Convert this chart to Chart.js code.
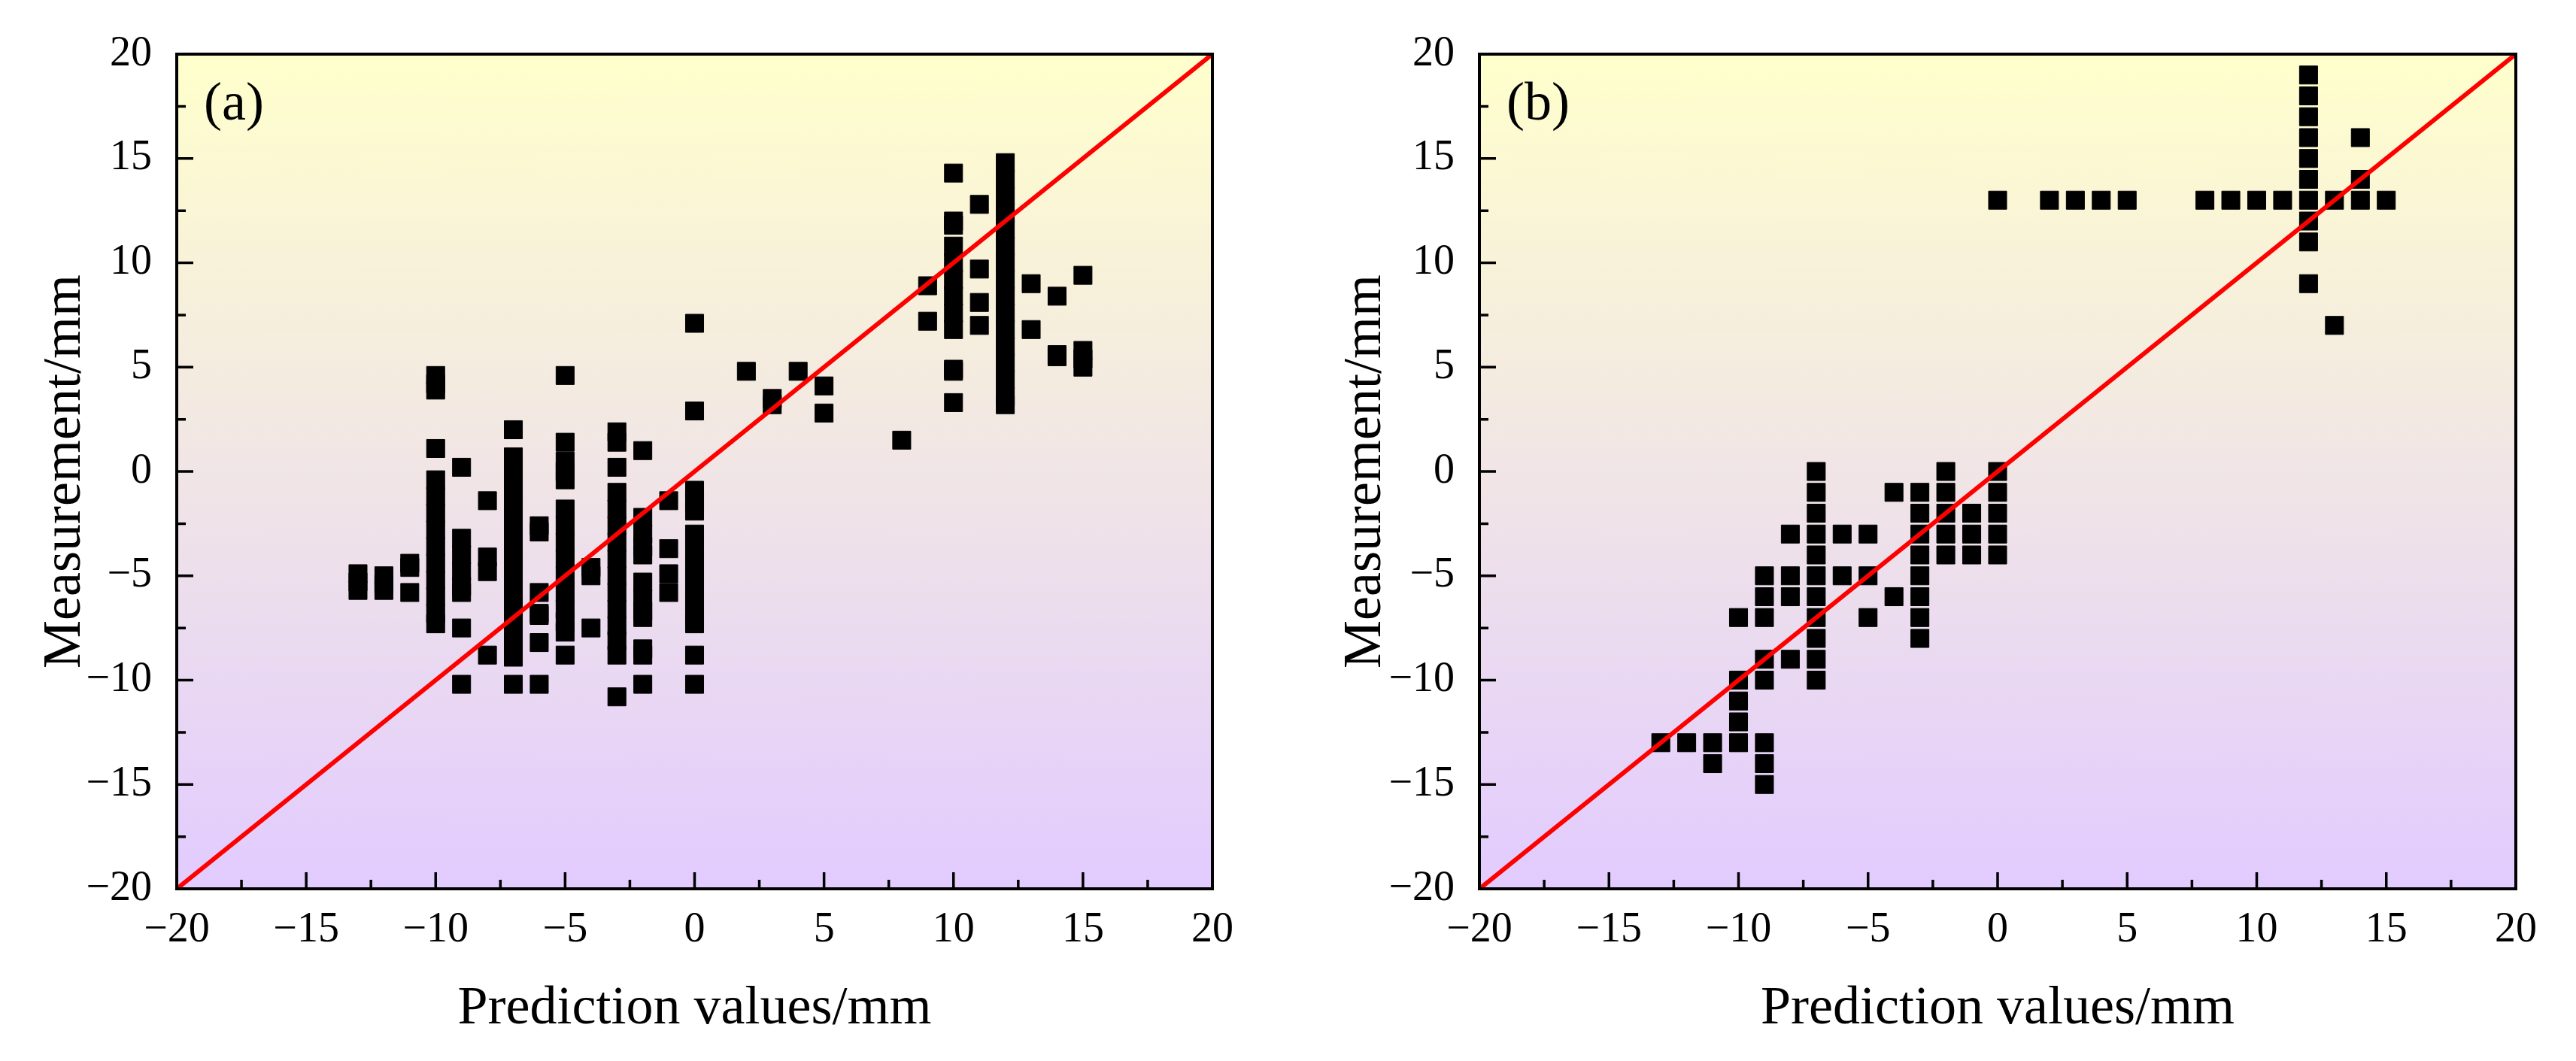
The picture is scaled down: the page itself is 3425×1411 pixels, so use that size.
<!DOCTYPE html>
<html>
<head>
<meta charset="utf-8">
<script src="https://cdn.jsdelivr.net/npm/chart.js@4.4.1/dist/chart.umd.min.js"></script>
<style>
  html, body { margin: 0; padding: 0; background: #fff; }
  #wrap { position: relative; width: 3425px; height: 1411px; }
  canvas { position: absolute; top: 0; }
</style>
</head>
<body>
<div id="wrap">
  <canvas id="chart-a" width="1712" height="1411" style="left:0"></canvas>
  <canvas id="chart-b" width="1713" height="1411" style="left:1712px"></canvas>
</div>
<script>
// axis ticks (both panels)
const majorTicks = [-20, -15, -10, -5, 0, 5, 10, 15, 20];
const minorTicks = [-17.5, -12.5, -7.5, -2.5, 2.5, 7.5, 12.5, 17.5];
const lineEnds = [-20, 20]; // y = x reference line

// panel (a): prediction columns and the measurements read in each column
const predA = [-13, -12, -11, -10, -9, -8, -7, -6, -5, -4, -3, -2, -1, 0, 2, 3, 4, 5, 8, 9, 10, 11, 12, 13, 14, 15];
const measA = [
  [-4.9, -5.3, -5.7],
  [-5.0, -5.4, -5.7],
  [-4.4, -4.6, -5.8],
  [4.6, 4.2, 3.9, 1.1, -0.4, -1.2, -2.0, -2.8, -3.6, -4.4, -5.2, -6.0, -6.8, -7.3],
  [0.2, -3.2, -4.0, -4.8, -5.5, -5.8, -7.5, -10.2],
  [-1.4, -4.1, -4.8, -8.8],
  [2.0, 0.7, -0.1, -0.9, -1.7, -2.5, -3.3, -4.1, -4.9, -5.7, -6.5, -7.3, -8.1, -8.9, -10.2],
  [-2.6, -2.9, -5.8, -6.8, -6.9, -8.2, -10.2],
  [4.6, 1.4, 0.5, 0.0, -0.4, -1.8, -2.6, -3.4, -4.2, -5.0, -5.8, -6.6, -7.2, -7.7, -8.8],
  [-4.6, -5.0, -7.5],
  [1.9, 1.4, 0.2, -1.0, -1.8, -2.6, -3.4, -4.2, -5.0, -5.8, -6.6, -7.4, -8.1, -8.8, -10.8],
  [1.0, -2.2, -3.0, -3.6, -4.0, -5.3, -6.1, -6.7, -7.0, -8.5, -8.8, -10.2],
  [-1.4, -3.7, -4.9, -5.8],
  [7.1, 2.9, -0.9, -1.4, -1.9, -3.0, -3.8, -4.6, -5.4, -6.2, -7.0, -7.3, -8.8, -10.2],
  [4.8],
  [3.5, 3.2],
  [4.8],
  [4.1, 2.8],
  [1.5],
  [8.9, 7.2],
  [14.3, 12.0, 11.8, 10.8, 10.0, 9.2, 8.4, 7.6, 6.8, 4.9, 4.8, 3.3],
  [12.8, 9.7, 8.1, 7.0],
  [14.8, 14.0, 13.2, 12.4, 11.6, 10.8, 10.0, 9.2, 8.4, 7.6, 6.8, 6.0, 5.2, 4.4, 3.6, 3.2],
  [9.0, 6.8],
  [8.4, 5.6, 5.5],
  [9.4, 5.8, 5.4, 5.0]
];

// panel (b)
const predB = [-13, -12, -11, -10, -9, -8, -7, -6, -5, -4, -3, -2, -1, 0, 2, 3, 4, 5, 8, 9, 10, 11, 12, 13, 14, 15];
const measB = [
  [-13],
  [-13],
  [-13, -14],
  [-7, -10, -11, -12, -13],
  [-5, -6, -7, -9, -10, -13, -14, -15],
  [-3, -5, -6, -9],
  [0, -1, -2, -3, -4, -5, -6, -7, -8, -9, -10],
  [-3, -5],
  [-3, -5, -7],
  [-1, -6],
  [-1, -2, -3, -4, -5, -6, -7, -8],
  [0, -1, -2, -3, -4],
  [-2, -3, -4],
  [13, 0, -1, -2, -3, -4],
  [13],
  [13],
  [13],
  [13],
  [13],
  [13],
  [13],
  [13],
  [19, 18, 17, 16, 15, 14, 13, 12, 11, 9],
  [13, 7],
  [16, 14, 13],
  [13]
];

const FONT = "'Liberation Serif', 'Times New Roman', serif";

function toPoints(cols, vals) {
  const pts = [];
  cols.forEach((x, i) => vals[i].forEach(y => pts.push({ x: x, y: y })));
  return pts;
}

function fmt(v) {
  return v < 0 ? '\u2212' + Math.abs(v) : String(v);
}

// gradient background, frame, inward ticks, panel letter
const framePlugin = {
  id: 'frame',
  beforeDraw(chart) {
    const { ctx, chartArea: a } = chart;
    ctx.save();
    ctx.fillStyle = '#ffffff';
    ctx.fillRect(0, 0, chart.width, chart.height);
    const g = ctx.createLinearGradient(0, a.top, 0, a.bottom);
    g.addColorStop(0, '#FFFFCC');
    g.addColorStop(1, '#E2CBFF');
    ctx.fillStyle = g;
    ctx.fillRect(a.left, a.top, a.right - a.left, a.bottom - a.top);
    ctx.restore();
  },
  afterDraw(chart, args, opts) {
    const { ctx, chartArea: a, scales } = chart;
    ctx.save();
    ctx.strokeStyle = '#000';
    ctx.lineWidth = 3.5;
    ctx.beginPath();
    const tick = (vals, len) => {
      vals.forEach(v => {
        const px = scales.x.getPixelForValue(v);
        ctx.moveTo(px, a.bottom);
        ctx.lineTo(px, a.bottom - len);
        const py = scales.y.getPixelForValue(v);
        ctx.moveTo(a.left, py);
        ctx.lineTo(a.left + len, py);
      });
    };
    tick(majorTicks, 22);
    tick(minorTicks, 12);
    ctx.stroke();
    ctx.lineWidth = 4;
    ctx.strokeRect(a.left, a.top, a.right - a.left, a.bottom - a.top);
    ctx.fillStyle = '#000';
    ctx.font = '72px ' + FONT;
    ctx.textAlign = 'left';
    ctx.textBaseline = 'middle';
    ctx.fillText(opts.label, a.left + 36, a.top + 68);
    ctx.restore();
  }
};

function makeChart(id, cols, vals, label, axisWidth, titleGap) {
  return new Chart(document.getElementById(id), {
    type: 'scatter',
    data: {
      datasets: [
        {
          type: 'line',
          data: lineEnds.map(v => ({ x: v, y: v })),
          borderColor: '#FF0000',
          borderWidth: 6,
          pointRadius: 0,
          order: 0
        },
        {
          data: toPoints(cols, vals),
          pointStyle: 'rect',
          pointRadius: 17,
          pointHoverRadius: 17,
          backgroundColor: '#000000',
          borderColor: '#000000',
          borderWidth: 1,
          order: 1
        }
      ]
    },
    options: {
      responsive: false,
      animation: false,
      devicePixelRatio: 1,
      layout: { padding: { top: 72, right: 1712 - axisWidth - 1377, bottom: 0, left: 0 } },
      plugins: {
        legend: { display: false },
        tooltip: { enabled: false },
        frame: { label: label }
      },
      scales: {
        x: {
          type: 'linear',
          min: -20, max: 20,
          afterBuildTicks: s => { s.ticks = majorTicks.map(v => ({ value: v })); },
          afterFit: s => { s.height = 229; },
          grid: { display: false },
          border: { display: false },
          ticks: { padding: 14, color: '#000', font: { family: FONT, size: 56 }, callback: fmt, maxRotation: 0 },
          title: { display: true, text: 'Prediction values/mm', color: '#000', font: { family: FONT, size: 72 }, padding: { bottom: 26 } }
        },
        y: {
          type: 'linear',
          min: -20, max: 20,
          afterBuildTicks: s => { s.ticks = majorTicks.map(v => ({ value: v })); },
          afterFit: s => { s.width = axisWidth; },
          grid: { display: false },
          border: { display: false },
          ticks: { padding: 25, color: '#000', font: { family: FONT, size: 56 }, callback: fmt },
          title: { display: true, text: 'Measurement/mm', color: '#000', font: { family: FONT, size: 72 }, padding: { top: titleGap } }
        }
      }
    },
    plugins: [framePlugin]
  });
}

makeChart('chart-a', predA, measA, '(a)', 235, 44);
makeChart('chart-b', predB, measB, '(b)', 255, 61);
</script>
</body>
</html>
